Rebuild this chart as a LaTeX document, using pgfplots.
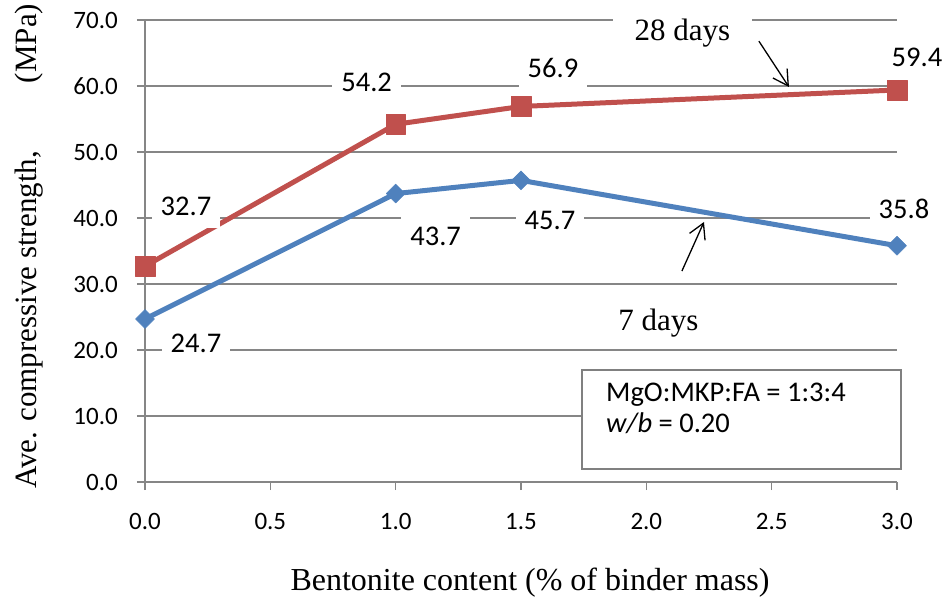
\documentclass[border=0pt]{standalone}
\usepackage{pgfplots}
\pgfplotsset{compat=1.18}
\usepackage{fontspec}
\setmainfont{Liberation Serif}
\newfontfamily\calibri{Carlito}
\usetikzlibrary{arrows.meta}

\definecolor{gridgray}{RGB}{134,134,134}
\definecolor{boxgray}{RGB}{128,128,128}
\definecolor{red28}{RGB}{192,80,77}
\definecolor{blue7}{RGB}{79,129,189}

\tikzset{
  lbl/.style={font=\calibri\fontsize{28.5bp}{34bp}\selectfont, fill=white, inner xsep=9bp, inner ysep=12bp, anchor=center},
  arr/.style={black, line width=1.3bp, -{Straight Barb[length=15bp,width=17bp,line width=1.3bp]}},
}

\begin{document}
\begin{tikzpicture}
\begin{axis}[
  at={(0,0)}, anchor=south west,
  scale only axis, width=752bp, height=462bp,
  xmin=0, xmax=3, ymin=0, ymax=70,
  clip=false,
  xtick={0,0.5,1,1.5,2,2.5,3},
  ytick={0,10,20,30,40,50,60,70},
  axis x line*=bottom, axis y line*=left,
  axis line style={draw=gridgray, line width=2bp},
  tick style={draw=gridgray, line width=1.5bp},
  tick align=outside, major tick length=8bp,
  ymajorgrids, grid style={draw=gridgray, line width=1.5bp},
  ticklabel style={font=\calibri\fontsize{25bp}{30bp}\selectfont,
    /pgf/number format/fixed, /pgf/number format/fixed zerofill,
    /pgf/number format/precision=1, /pgf/number format/assume math mode=true},
  xticklabel style={anchor=north, inner sep=0pt, yshift=-23bp},
  yticklabel style={anchor=east, inner sep=0pt, xshift=-19bp},
  xlabel={Bentonite content (\% of binder mass)},
  xlabel style={font=\fontsize{32bp}{36bp}\selectfont, at={(axis description cs:0.512,-0.2338)}, anchor=base},
  ylabel={Ave. compressive strength,\hspace{68bp}(MPa)},
  ylabel style={font=\fontsize{31bp}{36bp}\selectfont, at={(axis description cs:-0.1449,0.51)}, anchor=base},
]
% 7 days
\addplot[color=blue7, line width=5bp, line join=round, mark=square*, mark size=6.7bp,
  mark options={rotate=45, line width=0.5bp, fill=blue7}]
  coordinates {(0,24.7) (1,43.7) (1.5,45.7) (3,35.8)};
% 28 days
\addplot[color=red28, line width=5bp, line join=round, mark=square*, mark size=9.8bp,
  mark options={line width=0.5bp, fill=red28}]
  coordinates {(0,32.7) (1,54.2) (1.5,56.9) (3,59.4)};

% value labels, 28 days
\node[lbl, xshift=41bp, yshift=60bp] at (axis cs:0,32.7) {32.7};
\node[lbl, xshift=-29bp, yshift=42bp] at (axis cs:1,54.2) {54.2};
\node[lbl, xshift=32bp, yshift=38bp] at (axis cs:1.5,56.9) {56.9};
\node[lbl, xshift=20bp, yshift=33bp] at (axis cs:3,59.4) {59.4};
% value labels, 7 days
\node[lbl, xshift=51bp, yshift=-24bp] at (axis cs:0,24.7) {24.7};
\node[lbl, xshift=40bp, yshift=-43bp] at (axis cs:1,43.7) {43.7};
\node[lbl, xshift=29bp, yshift=-40bp] at (axis cs:1.5,45.7) {45.7};
\node[lbl, xshift=7bp, yshift=37bp] at (axis cs:3,35.8) {35.8};

% curve names with pointers
\node[font=\fontsize{31bp}{36bp}\selectfont, fill=white, inner xsep=22bp, inner ysep=6bp, anchor=base]
  at (axis cs:2.144,66.82) {28 days};
\draw[arr] (axis cs:2.449,66.8) -- (axis cs:2.569,59.85);
\node[font=\fontsize{31bp}{36bp}\selectfont, inner sep=0pt, anchor=base]
  at (axis cs:2.048,23.03) {7 days};
\draw[arr] (axis cs:2.142,31.97) -- (axis cs:2.230,39.4);
\end{axis}

% mix proportions
\draw[draw=boxgray, line width=1.8bp, fill=white] (437bp,13bp) rectangle (756bp,112bp);
\node[font=\calibri\fontsize{28.5bp}{34bp}\selectfont, inner sep=0pt, anchor=base west] at (461bp,80bp) {MgO:MKP:FA = 1:3:4};
\node[font=\calibri\fontsize{28.5bp}{34bp}\selectfont, inner sep=0pt, anchor=base west] at (461bp,49bp) {\textit{w/b} = 0.20};

\pgfresetboundingbox
\useasboundingbox (-145bp,-118bp) rectangle (803bp,482bp);
\end{tikzpicture}
\end{document}
